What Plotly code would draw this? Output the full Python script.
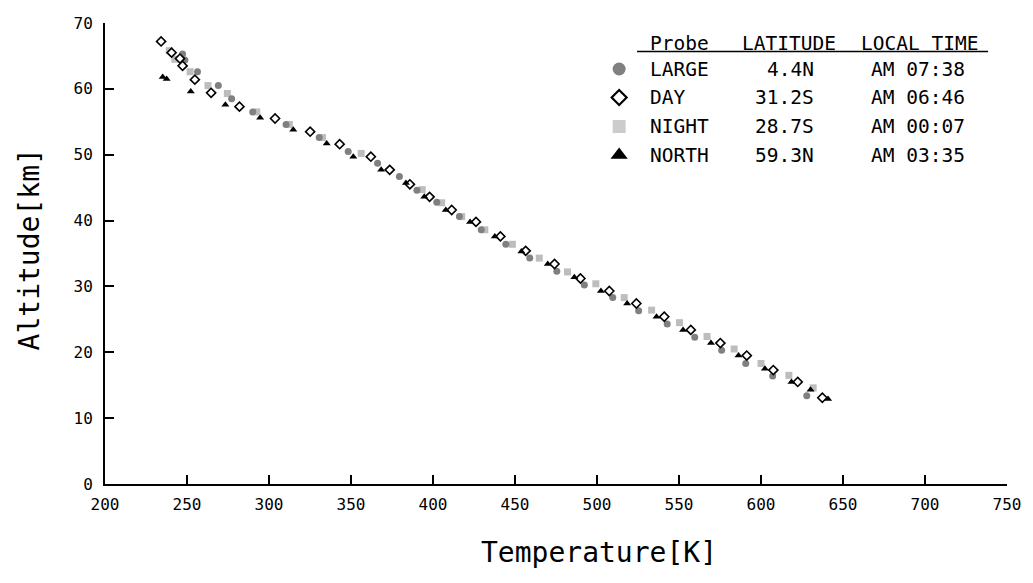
import plotly.graph_objects as go

# ---------------- data ----------------
large_T = [247.3, 248.7, 256.4, 269.1, 277.2, 290.1, 310.4, 330.6, 348.3, 366.2, 379.5, 390.2,
           402.3, 416.1, 429.4, 444.4, 459.0, 475.5, 492.3, 509.6, 525.4, 542.8, 559.6, 576.0,
           590.7, 607.1, 627.9]
large_alt = [65.3, 64.4, 62.6, 60.5, 58.5, 56.5, 54.6, 52.6, 50.5, 48.7, 46.7, 44.6,
             42.8, 40.6, 38.6, 36.4, 34.3, 32.3, 30.2, 28.3, 26.3, 24.3, 22.3, 20.3,
             18.3, 16.4, 13.4]

day_T = [234.2, 240.6, 245.7, 247.3, 254.8, 264.7, 282.0, 303.7, 325.1, 343.1, 362.1, 373.6,
         385.9, 397.9, 411.4, 426.2, 441.1, 456.5, 474.1, 489.9, 507.5, 524.0, 541.0, 557.2,
         575.2, 591.3, 607.5, 622.4, 637.4]
day_alt = [67.2, 65.5, 64.6, 63.5, 61.4, 59.4, 57.3, 55.5, 53.5, 51.6, 49.7, 47.7,
           45.5, 43.6, 41.6, 39.8, 37.6, 35.4, 33.4, 31.2, 29.3, 27.4, 25.4, 23.4,
           21.4, 19.5, 17.3, 15.5, 13.1]

night_T = [239.2, 242.6, 251.9, 262.8, 274.6, 292.5, 312.4, 332.6, 356.2, 393.4, 405.3, 417.5,
           431.6, 448.4, 464.8, 482.0, 499.3, 516.6, 533.3, 550.3, 567.1, 583.6, 600.0, 617.0,
           631.8]
night_alt = [65.8, 64.5, 62.6, 60.5, 59.3, 56.5, 54.6, 52.6, 50.2, 44.7, 42.7, 40.6,
             38.6, 36.4, 34.3, 32.2, 30.4, 28.3, 26.4, 24.5, 22.4, 20.5, 18.3, 16.5,
             14.6]

north_T = [235.2, 237.6, 252.3, 273.4, 294.6, 314.8, 335.2, 351.4, 368.4, 383.5, 394.7, 407.8,
           422.6, 437.7, 453.9, 470.0, 486.2, 502.4, 518.4, 536.3, 552.5, 569.5, 586.3, 602.4,
           618.6, 630.2, 640.9]
north_alt = [61.8, 61.5, 59.6, 57.6, 55.6, 53.8, 51.7, 49.7, 47.7, 45.7, 43.6, 41.6,
             39.8, 37.6, 35.3, 33.4, 31.4, 29.3, 27.4, 25.4, 23.4, 21.4, 19.5, 17.5,
             15.5, 14.3, 12.9]

probe_names = ["LARGE", "DAY", "NIGHT", "NORTH"]
latitudes = ["4.4N", "31.2S", "28.7S", "59.3N"]
local_times = ["AM 07:38", "AM 06:46", "AM 00:07", "AM 03:35"]
header = ["Probe", "LATITUDE", "LOCAL TIME"]

x_ticks = list(range(200, 751, 50))
y_ticks = list(range(0, 71, 10))

# ---------------- style ----------------
FONT = "DejaVu Sans Mono"
W, H = 1033, 583
ML, MR, MT, MB = 105, 21, 23, 99
PW, PH = W - ML - MR, H - MT - MB

def px_x(px):
    return (px - ML) / PW

def px_y(py):
    return (H - MB - py) / PH

styles = {
    "LARGE": dict(symbol="circle", color="#808080"),
    "DAY": dict(symbol="diamond", color="white"),
    "NIGHT": dict(symbol="square", color="#bdbdbd"),
    "NORTH": dict(symbol="triangle-up", color="black"),
}
data_sizes = {"LARGE": 7, "DAY": 7, "NIGHT": 7, "NORTH": 7}
legend_sizes = {"LARGE": 13, "DAY": 11.5, "NIGHT": 13, "NORTH": 15}
legend_colors = {"NIGHT": "#cccccc"}

fig = go.Figure()
series = {
    "NIGHT": (night_T, night_alt),
    "LARGE": (large_T, large_alt),
    "DAY": (day_T, day_alt),
    "NORTH": (north_T, north_alt),
}
for name, (t, a) in series.items():
    st = styles[name]
    line = dict(width=1.6, color="black") if name == "DAY" else dict(width=0)
    mk = dict(symbol=st["symbol"], color=st["color"], size=data_sizes[name], line=line)
    fig.add_trace(go.Scatter(x=t, y=a, mode="markers", marker=mk, name=name,
                             showlegend=False, hoverinfo="skip"))

# ---------------- custom table legend (pixel-space overlay axes) ----------------
leg_marker_x = 622
leg_row_y = [69, 97.5, 126.5, 155]
for i, name in enumerate(probe_names):
    st = styles[name]
    line = dict(width=2.2, color="black") if name == "DAY" else dict(width=0)
    mk = dict(symbol=st["symbol"], color=legend_colors.get(name, st["color"]),
              size=legend_sizes[name], line=line)
    fig.add_trace(go.Scatter(x=[leg_marker_x], y=[leg_row_y[i]], mode="markers", marker=mk,
                             xaxis="x2", yaxis="y2", showlegend=False, hoverinfo="skip",
                             cliponaxis=False))

annotations = []
def ann(text, x, y, xanchor, size, **kw):
    annotations.append(dict(text=text, x=px_x(x), y=px_y(y), xref="paper", yref="paper",
                            xanchor=xanchor, yanchor="middle", showarrow=False,
                            font=dict(family=FONT, size=size, color="black"), **kw))

LEG_FS = 19.5
ann(header[0], 651, 43, "left", LEG_FS)
ann(header[1], 744, 43, "left", LEG_FS)
ann(header[2], 863, 43, "left", LEG_FS)
for i in range(4):
    ann(probe_names[i], 651, leg_row_y[i], "left", LEG_FS)
    ann(latitudes[i], 820, leg_row_y[i], "right", LEG_FS)
    ann(local_times[i], 873, leg_row_y[i], "left", LEG_FS)

# axis titles
ann("Temperature[K]", 602, 552, "center", 28)
ann("Altitude[km]", 30, 249, "center", 28, textangle=-90)

shapes = [dict(type="line", xref="paper", yref="paper", x0=px_x(640), x1=px_x(993),
               y0=px_y(51.5), y1=px_y(51.5), line=dict(color="black", width=1.5))]

axis_common = dict(showline=True, linewidth=2, linecolor="black", ticks="inside",
                   ticklen=9, tickwidth=2, tickcolor="black", showgrid=False, zeroline=False,
                   tickfont=dict(family=FONT, size=16, color="black"), mirror=False)

fig.update_layout(
    width=W, height=H,
    margin=dict(l=ML, r=MR, t=MT, b=MB, pad=0),
    paper_bgcolor="white", plot_bgcolor="white",
    showlegend=False,
    xaxis=dict(range=[200, 750], tickvals=x_ticks, ticklabelstandoff=5, **axis_common),
    yaxis=dict(range=[0, 70], tickvals=y_ticks, ticklabelstandoff=7, **axis_common),
    xaxis2=dict(range=[ML, W - MR], overlaying="x", anchor="y2", visible=False,
                fixedrange=True),
    yaxis2=dict(range=[H - MB, MT], overlaying="y", anchor="x2", visible=False,
                fixedrange=True),
    annotations=annotations,
    shapes=shapes,
)

fig.write_html("out.html")
